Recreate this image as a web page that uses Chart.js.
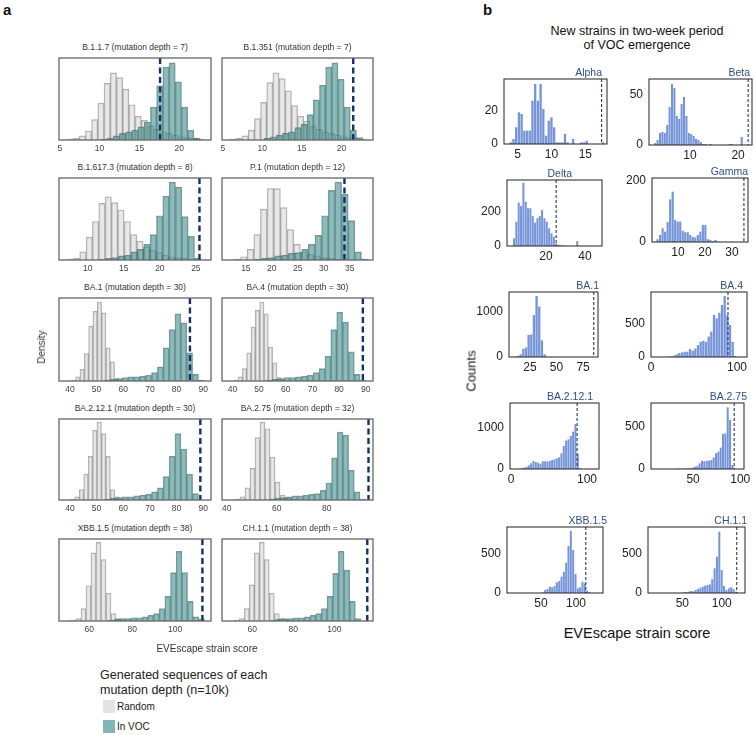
<!DOCTYPE html>
<html><head><meta charset="utf-8">
<script src="https://cdn.jsdelivr.net/npm/chart.js@4.4.1/dist/chart.umd.min.js"></script>
<style>
html,body{margin:0;padding:0;background:#fff;}
#fig{position:relative;width:756px;height:735px;overflow:hidden;font-family:"Liberation Sans",Arial,Helvetica,sans-serif;}
#fig canvas{position:absolute;}
.txt{position:absolute;white-space:nowrap;line-height:1;}
.sw{position:absolute;}
</style></head><body><div id="fig"></div>
<script>
// ================= DATA: panel a (generated sequences, density as % of panel height) =================
const lineages = ['B.1.1.7','B.1.351','B.1.617.3','P.1','BA.1','BA.4','BA.2.12.1','BA.2.75','XBB.1.5','CH.1.1'];
const mutationDepth = [7,7,8,12,30,30,30,32,38,38];
const vocScore = [17.6,21.5,25.5,34.0,85.0,88.9,88.9,96.7,112.7,116.1];
const scoreRange = [[4.9,24.0],[4.9,24.0],[6.0,27.1],[10.4,39.5],[35.9,92.9],[36.1,92.7],[35.9,92.9],[38.1,98.5],[45.9,116.7],[45.2,118.9]];
const scoreTicks = [[5,10,15,20],[5,10,15,20],[10,15,20,25],[15,20,25,30,35],[40,50,60,70,80,90],[40,50,60,70,80,90],[40,50,60,70,80,90],[40,60,80],[60,80,100],[60,80,100]];
const randomBinStart = [5.88,5.88,7.12,12.69,40.53,40.5,40.2,43.3,51.47,51.2];
const randomBinWidth = [0.78,0.78,0.88,1.28,1.62,1.62,1.66,2.0,2.33,2.44];
const randomDensity = [
  [1,2,5,11,25,45,69,82,76,62,43,29,24,17,13,10,8,6,4,3,2,1],
  [1,2,5,12,26,46,70,82,75,60,42,29,23,17,13,10,8,6,4,3,2,1],
  [1,2,10,28,47,69,77,70,61,47,31,23,16,12,9,6,4,3,2,1,1],
  [1,4,13,31,62,87,87,64,37,19,10,7,5,3,2,1],
  [1,5,14,33,66,84,95,82,40,23,3,1],
  [1,5,15,34,65,85,95,81,41,22,4,1],
  [1,4,13,32,54,86,96,82,54,13,4,1],
  [1,4,15,39,77,96,88,53,22,6,3,1],
  [1,3,15,43,83,96,75,34,9,3,1],
  [1,3,15,44,83,96,75,34,9,3,1]
];
const vocBinStart = [10.15,10.21,11.61,16.8,53.0,52.7,53.0,56.96,68.82,68.88];
const vocBinWidth = [0.78,0.78,0.88,1.28,2.2,2.2,2.2,2.27,2.64,2.76];
const vocDensity = [
  [1,2,5,8,10,12,16,22,40,66,89,94,71,40,12,2],
  [2,4,6,8,10,15,19,31,49,67,89,94,74,40,12,3],
  [1,2,3,5,6,10,13,19,31,54,78,95,89,53,29,2],
  [1,2,3,5,6,8,9,13,19,30,54,85,95,80,48,10,1],
  [1,2,3,4,5,5,6,7,10,17,40,62,81,70,34,8,1],
  [1,2,3,4,4,5,6,7,10,15,30,62,83,71,35,8,1],
  [1,2,3,4,4,5,6,7,10,15,29,54,82,63,32,8],
  [1,2,3,4,5,5,6,7,8,12,21,52,84,80,37,10,1],
  [1,2,3,3,4,4,5,7,9,15,30,59,85,59,24,5,2],
  [1,2,3,3,4,4,5,7,9,15,30,58,85,62,24,3]
];

// ================= DATA: panel b (new strains, counts) =================
const strains = ['Alpha','Beta','Delta','Gamma','BA.1','BA.4','BA.2.12.1','BA.2.75','XBB.1.5','CH.1.1'];
const strainVocScore = [17.4,22.1,25.2,34.4,85,89.5,87,93.6,114,119];
const strainRange = [[3,18.2],[1.46,22.9],[0,48.7],[0.4,35.9],[5.3,89],[0,111.6],[-1.3,115.8],[5.3,104],[1.4,138.6],[6.4,129.5]];
const strainXTicks = [[5,10,15],[10,20],[20,40],[10,20,30],[25,50,75],[0,100],[0,100],[50,100],[50,100],[50,100]];
const countMax = [39,66,388,210,1444,985,1610,786,846,846];
const countTicks = [[0,20],[0,50],[0,200],[0,200],[0,1000],[0,500],[0,1000],[0,500],[0,500],[0,500]];
const strainBinStart = [3.8,2.5,3.0,2.0,5.0,12.8,9.6,30.9,51.0,47.4];
const strainBinWidth = [0.4,0.5,1.2,0.93,2.5,3.1,3.07,2.48,3.33,3.0];
const strainCounts = [
  [1,3,10,19,18,8,8,8,26,36,26,36,21,5,14,16,10,1,1,1,6,1,0,3,0,0,1,1,2,0,0,0,0,0,1],
  [2,5,12,13,12,20,38,61,57,29,26,41,48,29,12,11,9,6,5,3,1,1,0,1,0,0,0,0,0,0,0,1,1,0,0,0,8,0],
  [45,143,255,235,372,261,222,222,176,137,163,176,212,163,143,104,75,55,14,8,4,2,1,0,0,0,0,29,2,0,1],
  [9,23,45,34,65,140,165,72,67,67,37,32,32,23,17,15,23,34,56,56,9,7,2,7,1,0,0,0,0,0,0,0,0,0,1],
  [0,5,10,20,60,180,210,490,500,930,1356,1120,370,60,7],
  [2,3,5,10,20,40,60,70,80,80,120,95,130,180,230,245,230,310,385,636,585,670,790,924,636,485,230,15],
  [8,16,33,57,90,138,195,171,154,130,187,187,187,195,220,236,260,285,382,561,691,724,805,911,1098,366,16],
  [4,4,0,4,8,4,8,16,28,36,67,99,91,99,99,107,139,187,206,254,417,425,734,583,48],
  [8,38,51,81,73,90,137,154,209,273,389,603,795,551,244,60,73,145,124,30,10],
  [4,8,12,17,26,22,38,51,68,81,94,103,111,175,316,466,786,295,90,38,60,73,51,17]
];

// ================= LAYOUT (page pixels) =================
const LEFT_BOX = [[59,58,152,82],[222,58,151,82],[59,178,152,82],[222,178,151,82],[59,298,152,83],[222,298,151,83],[59,419,152,81],[222,419,151,81],[59,539,152,82],[222,539,151,82]];
const RIGHT_BOX = [[504,79,103,65],[649,79,103,66],[507,180,95,66],[652,178,96,64],[509,292,89,65],[651,292,96,65],[510,403,89,66],[651,403,93,66],[507,527,96,66],[648,527,97,66]];
const RIGHT_LABEL_END = [602,750,572,748,599,743,593,747,607,747];
const LPAD = {l:14, r:14, t:2, b:16};
const RPAD = {l:34, r:10, t:14, b:18};
const FONT = '"Liberation Sans", Arial, Helvetica, sans-serif';

Chart.defaults.font.family = FONT;
const fig = document.getElementById('fig');

function makeCanvas(box, pad){
  const c = document.createElement('canvas');
  const w = box[2]+pad.l+pad.r, h = box[3]+pad.t+pad.b;
  c.width = w; c.height = h;
  c.style.left = (box[0]-pad.l)+'px'; c.style.top = (box[1]-pad.t)+'px';
  c.style.width = w+'px'; c.style.height = h+'px';
  fig.appendChild(c);
  return c;
}
function bins(start, width, values){ return values.map((v,i)=>({x: start + width*(i+0.5), y: v})); }
function addText(str, x, y, o={}){
  const d = document.createElement('div');
  d.className = 'txt'; d.textContent = str;
  d.style.fontSize = (o.size||10)+'px';
  d.style.color = o.color||'#333';
  if (o.weight) d.style.fontWeight = o.weight;
  d.style.left = x+'px'; d.style.top = y+'px';
  let tf = o.align==='left' ? 'translate(0,-50%)' : 'translate(-50%,-50%)';
  if (o.rotate) tf += ' rotate('+o.rotate+'deg)';
  d.style.transform = tf;
  fig.appendChild(d);
}

const panelDeco = {
  id: 'panelDeco',
  afterDatasetsDraw(chart, args, o){
    const {ctx, chartArea:a} = chart;
    const px = chart.scales.x.getPixelForValue(o.mark);
    ctx.save();
    ctx.strokeStyle = o.markColor; ctx.lineWidth = o.markWidth; ctx.setLineDash(o.dash);
    ctx.beginPath(); ctx.moveTo(px, a.top); ctx.lineTo(px, a.bottom); ctx.stroke();
    ctx.setLineDash([]);
    ctx.strokeStyle = o.boxColor; ctx.lineWidth = o.boxWidth;
    ctx.strokeRect(a.left, a.top, a.right-a.left, a.bottom-a.top);
    if (o.label){
      ctx.font = o.labelFont; ctx.fillStyle = o.labelColor;
      ctx.textAlign = 'right'; ctx.textBaseline = 'alphabetic';
      ctx.fillText(o.label, o.labelX, a.top - 3);
    }
    ctx.restore();
  }
};
function tickSetter(arr){ return s => { s.ticks = arr.map(v => ({value:v})); }; }
const plainLabel = v => String(v);

// ---------- panel a charts ----------
lineages.forEach((name, i) => {
  const box = LEFT_BOX[i];
  const c = makeCanvas(box, LPAD);
  const [mn, mx] = scoreRange[i];
  new Chart(c, {
    type: 'bar',
    data: { datasets: [
      { data: bins(vocBinStart[i], vocBinWidth[i], vocDensity[i]), xAxisID:'x2', order:0,
        backgroundColor:'rgba(70,145,145,0.62)', borderColor:'rgba(40,75,75,0.55)', borderWidth:0.8,
        grouped:false, barPercentage:1, categoryPercentage:1 },
      { data: bins(randomBinStart[i], randomBinWidth[i], randomDensity[i]), xAxisID:'x', order:1,
        backgroundColor:'rgba(205,205,205,0.45)', borderColor:'rgba(110,110,110,0.55)', borderWidth:0.8,
        grouped:false, barPercentage:1, categoryPercentage:1 }
    ]},
    options: {
      responsive:false, animation:false, devicePixelRatio:1, events:[],
      layout:{padding:{left:LPAD.l, right:LPAD.r, top:LPAD.t, bottom:0}},
      plugins:{ legend:{display:false}, tooltip:{enabled:false},
        panelDeco:{mark:vocScore[i], markColor:'#13306a', markWidth:2.4, dash:[6,3.5], boxColor:'#666', boxWidth:1.3} },
      scales:{
        x:{type:'linear', offset:false, min:mn, max:mx, bounds:'data', grid:{display:false, drawTicks:false, offset:false}, border:{display:false},
           ticks:{font:{size:8.5}, color:'#444', padding:4, autoSkip:false, maxRotation:0, callback:plainLabel},
           afterBuildTicks: tickSetter(scoreTicks[i]), afterFit: s => { s.height = LPAD.b; }},
        x2:{type:'linear', offset:false, min:mn, max:mx, bounds:'data', display:false, grid:{offset:false}},
        y:{display:false, min:0, max:100}
      }
    },
    plugins:[panelDeco]
  });
  addText(name+' (mutation depth = '+mutationDepth[i]+')', box[0]+box[2]/2, box[1]-11, {size:8.5, color:'#333'});
});

// ---------- panel b charts ----------
strains.forEach((name, i) => {
  const box = RIGHT_BOX[i];
  const c = makeCanvas(box, RPAD);
  const [mn, mx] = strainRange[i];
  new Chart(c, {
    type:'bar',
    data:{ datasets:[{ data: bins(strainBinStart[i], strainBinWidth[i], strainCounts[i]),
      backgroundColor:'rgb(118,148,216)', borderWidth:0, grouped:false, barPercentage:0.86, categoryPercentage:1 }]},
    options:{
      responsive:false, animation:false, devicePixelRatio:1, events:[],
      layout:{padding:{left:0, right:RPAD.r, top:RPAD.t, bottom:0}},
      plugins:{ legend:{display:false}, tooltip:{enabled:false},
        panelDeco:{mark:strainVocScore[i], markColor:'#1f3a6e', markWidth:1.1, dash:[3,2], boxColor:'#222', boxWidth:1,
          label:name, labelFont:'10.5px '+FONT, labelColor:'#2d4f8a', labelX: RIGHT_LABEL_END[i]-(box[0]-RPAD.l)} },
      scales:{
        x:{type:'linear', offset:false, min:mn, max:mx, bounds:'data', grid:{display:false, drawTicks:false, offset:false}, border:{display:false},
           ticks:{font:{size:12}, color:'#222', padding:3, autoSkip:false, maxRotation:0, callback:plainLabel},
           afterBuildTicks: tickSetter(strainXTicks[i]), afterFit: s => { s.height = RPAD.b; }},
        y:{type:'linear', min:0, max:countMax[i], bounds:'data', grid:{display:false, drawTicks:false}, border:{display:false},
           ticks:{font:{size:12}, color:'#222', padding:6, autoSkip:false, callback:plainLabel},
           afterBuildTicks: tickSetter(countTicks[i]), afterFit: s => { s.width = RPAD.l; }}
      }
    },
    plugins:[panelDeco]
  });
});

// ---------- text ----------
addText('a', 3, 9, {size:15, weight:'bold', color:'#111', align:'left'});
addText('b', 483, 9, {size:15, weight:'bold', color:'#111', align:'left'});
addText('Density', 42, 347, {size:10, color:'#333', rotate:-90});
addText('EVEscape strain score', 207, 649, {size:10, color:'#333'});
addText('Generated sequences of each', 100, 675, {size:12.5, color:'#222', align:'left'});
addText('mutation depth  (n=10k)', 100, 690, {size:12.5, color:'#222', align:'left'});
const sw1 = document.createElement('div'); sw1.className='sw';
Object.assign(sw1.style,{left:'103px',top:'700px',width:'12px',height:'13px',background:'#e4e4e4'}); fig.appendChild(sw1);
const sw2 = document.createElement('div'); sw2.className='sw';
Object.assign(sw2.style,{left:'103px',top:'720px',width:'12px',height:'13px',background:'#80b6b6'}); fig.appendChild(sw2);
addText('Random', 117, 707, {size:10, color:'#222', align:'left'});
addText('In VOC', 117, 727, {size:10, color:'#222', align:'left'});

addText('New strains in two-week period', 637, 31, {size:12.5, color:'#111'});
addText('of VOC emergence', 637, 45, {size:12.5, color:'#111'});
addText('Counts', 471, 371, {size:13, color:'#111', rotate:-90});
addText('EVEscape strain score', 637, 633, {size:14.5, color:'#111'});
</script>
</body></html>
